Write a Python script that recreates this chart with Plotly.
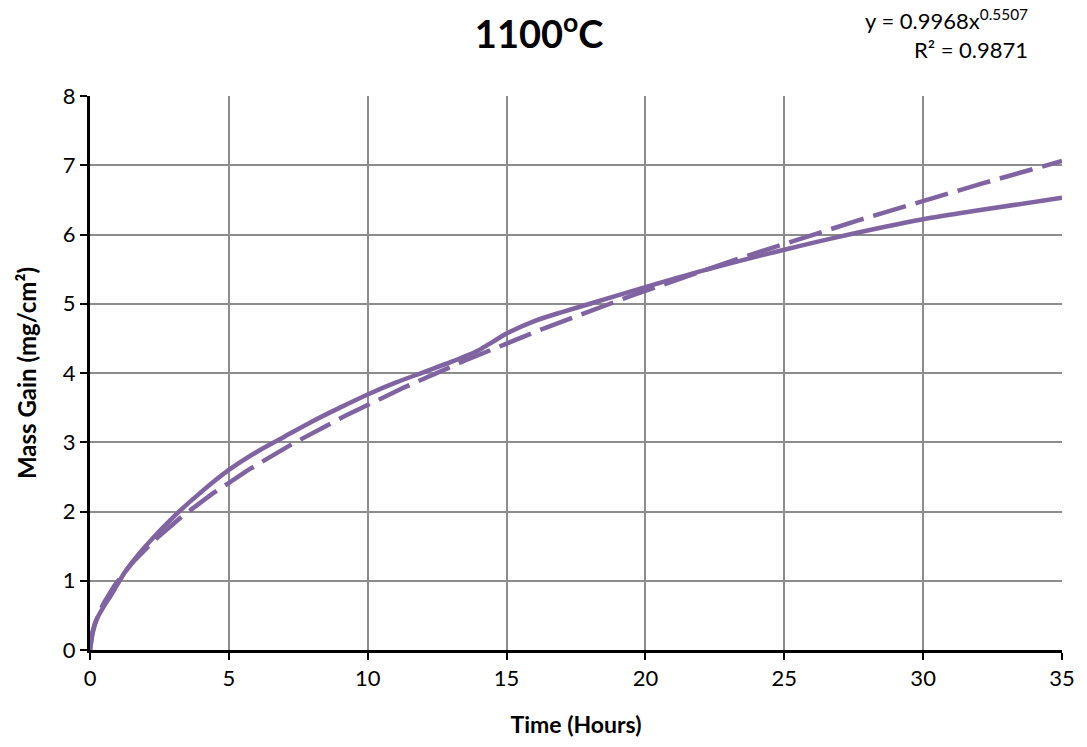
import numpy as np
import plotly.graph_objects as go

# Measured mass gain at 1100 °C
time_h = [0, 0.1, 0.25, 0.5, 0.8, 1.3, 2, 3, 4, 5, 6, 7, 8, 9, 10, 11, 12, 13,
          14, 14.5, 15, 16, 17, 18, 20, 22, 25, 27, 30, 32, 35]
mass_gain = [0, 0.25, 0.45, 0.63, 0.82, 1.15, 1.5, 1.92, 2.28, 2.6, 2.86, 3.08,
             3.3, 3.5, 3.69, 3.86, 4.01, 4.16, 4.33, 4.45, 4.57, 4.75, 4.88, 5.0,
             5.24, 5.47, 5.78, 5.97, 6.22, 6.35, 6.53]

# Power-law trendline coefficients (y = a * x^b)
fit_a = 0.9968
fit_b = 0.5507
fit_r2 = 0.9871

x_ticks = [0, 5, 10, 15, 20, 25, 30, 35]
y_ticks = [0, 1, 2, 3, 4, 5, 6, 7, 8]

purple = "#8064A2"
font_family = "Lato"

fit_x = np.linspace(0, 35, 400)
fit_y = fit_a * fit_x ** fit_b

fig = go.Figure()
fig.add_trace(go.Scatter(
    x=time_h, y=mass_gain, mode="lines",
    line=dict(color=purple, width=4.5, shape="spline", smoothing=0.8),
    showlegend=False, hoverinfo="x+y",
))
fig.add_trace(go.Scatter(
    x=fit_x, y=fit_y, mode="lines",
    line=dict(color=purple, width=4.5, dash="34px,10px"),
    showlegend=False, hoverinfo="x+y",
))

axis_common = dict(
    showgrid=True, gridcolor="#8c8c8c", gridwidth=1.5,
    showline=True, linecolor="black", linewidth=3,
    ticks="outside", ticklen=7, tickwidth=2, tickcolor="black",
    zeroline=False,
    tickfont=dict(family=font_family, size=22, color="black"),
)

fig.update_layout(
    width=1087, height=747,
    margin=dict(l=90, r=22, t=96, b=95),
    paper_bgcolor="white", plot_bgcolor="white",
    font=dict(family=font_family, size=22, color="black"),
    title=dict(
        text="<b>1100<sup>o</sup>C</b>",
        x=0.496, xanchor="center", y=0.953, yanchor="middle",
        font=dict(size=38, family=font_family, color="black"),
    ),
    xaxis=dict(
        range=[0, 35], tickvals=x_ticks, **axis_common,
        title=dict(text="<b>Time (Hours)</b>",
                   font=dict(size=23, family=font_family), standoff=27),
    ),
    yaxis=dict(
        range=[0, 8], tickvals=y_ticks, **axis_common,
        title=dict(text="<b>Mass Gain (mg/cm²)</b>",
                   font=dict(size=24, family=font_family), standoff=20),
    ),
    annotations=[dict(
        text=f"y = {fit_a}x<sup>{fit_b}</sup><br>R² = {fit_r2}",
        xref="paper", yref="paper", x=0.967, y=1.112,
        xanchor="right", yanchor="middle", align="right",
        showarrow=False, font=dict(size=22, family=font_family, color="black"),
    )],
)

fig.write_html("out.html")
